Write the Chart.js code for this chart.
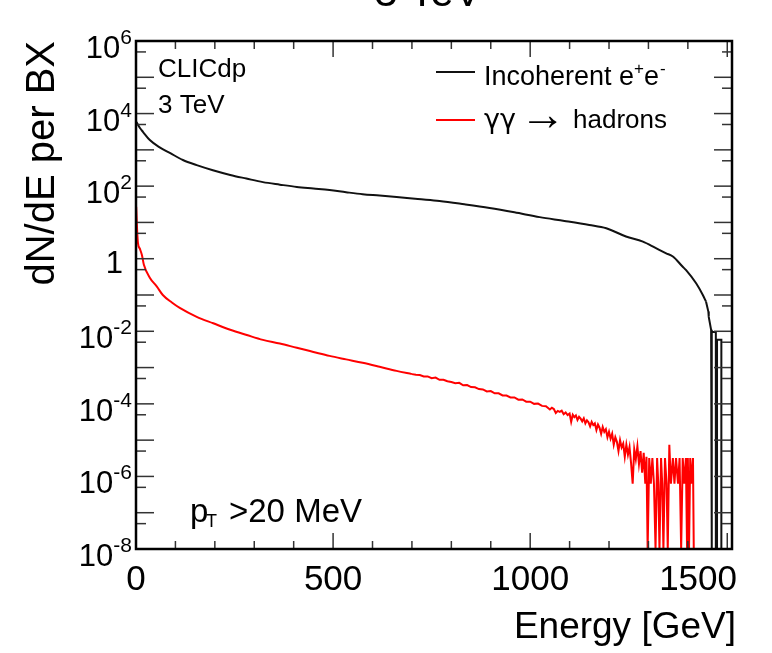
<!DOCTYPE html>
<html><head><meta charset="utf-8">
<script src="https://cdn.jsdelivr.net/npm/chart.js@4.4.0/dist/chart.umd.min.js"></script>
<style>html,body{margin:0;padding:0;background:#fff;}#wrap{width:772px;height:653px;position:relative;}</style>
</head><body><div id="wrap"><canvas id="c" width="772" height="653"></canvas></div>
<script>
// ---------------- data ----------------
const titleText = '3 TeV';
const xAxisTitle = 'Energy [GeV]';
const yAxisTitle = 'dN/dE per BX';
const xMajorTicks = [0, 500, 1000, 1500];
const xMinorStep = 100;
const yLabelExponents = [6, 4, 2, 0, -2, -4, -6, -8];
const X_MIN = 0, X_MAX = 1512;
const Y_MIN = 1e-8, Y_MAX = 1e6;

// Incoherent e+e- : smooth part
const eeEnergy = [1,10,18,35,60,87,119,154,195,239,280,322,365,408,450,491,533,575,618,661,715,770,833,897,960,1024,1087,1150,1193,1243,1286,1319,1345,1362,1387,1395,1421,1438,1446];
const eeValue  = [5900,4000,3100,1860,1170,810,525,380,275,204,162,129,110,95,86,78,68,60,55,50,44,39,31.6,25,19,14,11,8.5,6.9,4.1,2.95,1.95,1.41,1.15,0.6,0.49,0.21,0.1,0.066];
// Incoherent e+e- : sparse end bins (0 = empty bin)
const eeTailEnergy = [1446,1452,1453,1459,1460,1461,1461,1471,1471,1474,1474,1485,1485];
const eeTailValue  = [0.066,0.035,0.025,0.011,0,0,0.0095,0.0095,0,0,0.0058,0.0058,0];

// gamma gamma -> hadrons : smooth part
const hadEnergy = [0.5,3,5,10,15,20,35,53,68,91,111,154,196,239,281,322,365,408,450,491,533,575,618,661,700];
const hadValue  = [27,5.5,2.7,1.86,1.26,0.68,0.30,0.17,0.10,0.062,0.044,0.025,0.0166,0.011,0.0079,0.0058,0.0046,0.0035,0.0027,0.0021,0.00168,0.00135,0.00105,8.1e-4,6.6e-4];
// gamma gamma -> hadrons : noisy high-energy part (0 = empty bin)
const hadNoisyEnergy = [700,710,720,730,740,750,760,770,780,790,800,810,820,830,840,850,860,870,880,890,900,910,920,930,940,950,960,970,980,990,1000,1010,1020,1030,1040,1050,1055,1060,1065,1070,1075,1080,1085,1090,1095,
  1100,1104,1108,1112,1116,1120,1124,1128,1132,1136,1140,1144,1148,1152,1156,1160,1164,1168,1172,1176,1180,1184,1188,1192,1196,1200,1204,1208,1212,1216,1220,1224,1228,1232,1236,1240,1244,1248,1252,1256,1260,1264,1268,1272,1276,1280,1284,1288,1292,1295,
  1298,1302,1306,1310,1314,1318,1322,1325,1328,1332,1335,1338,1342,1346,1349,1353,1357,1362,1366,1370,1375,1379,1383,1387,1391,1395,1398,1400,1403,1406,1410,1413,1415];
const hadNoisyValue = [6.6e-4,6.3e-4,6.2e-4,5.7e-4,5.7e-4,5.1e-4,5.3e-4,4.6e-4,4.6e-4,4.2e-4,4.0e-4,3.7e-4,3.8e-4,3.25e-4,3.3e-4,2.9e-4,2.85e-4,2.55e-4,2.5e-4,2.2e-4,2.25e-4,1.95e-4,1.95e-4,1.7e-4,1.7e-4,1.5e-4,1.5e-4,1.3e-4,1.32e-4,1.15e-4,1.15e-4,1.0e-4,1.02e-4,8.8e-5,8.6e-5,7.0e-5,7.8e-5,7.2e-5,5.6e-5,6.4e-5,6.0e-5,6.5e-5,5.2e-5,5.8e-5,4.9e-5,
  5.4e-5,3.2e-5,5.0e-5,4.3e-5,4.8e-5,3.6e-5,4.4e-5,3.9e-5,3.3e-5,4.0e-5,2.9e-5,3.5e-5,3.1e-5,2.4e-5,3.2e-5,2.6e-5,2.9e-5,1.9e-5,2.7e-5,2.2e-5,1.5e-5,2.3e-5,1.7e-5,2.0e-5,1.2e-5,1.7e-5,1.1e-5,1.5e-5,7.5e-6,1.2e-5,9.0e-6,5.0e-6,1.0e-5,6.3e-6,8.0e-6,3.5e-6,7.5e-6,4.0e-6,6.5e-6,2.3e-6,6.3e-7,5.6e-6,3.0e-6,6.8e-6,2.2e-6,5.0e-6,1.26e-6,4.5e-6,6.3e-7,3.5e-6,
  0,3.2e-6,6.3e-7,3.2e-6,6.3e-7,0,3.2e-6,6.3e-7,0,3.2e-6,6.3e-7,0,3.2e-6,6.3e-7,0,7.4e-6,6.3e-7,3.2e-6,6.3e-7,3.2e-6,6.3e-7,3.2e-6,0,3.2e-6,6.3e-7,3.2e-6,0,3.2e-6,0,3.2e-6,6.3e-7,3.2e-6,0];

const legendLabels = ['Incoherent e', 'γγ', '→', 'hadrons'];
const seriesColors = ['#111111', '#ff0000'];
const annotCLIC = ['CLICdp', '3 TeV'];

// ---------------- drawing ----------------
const FONT = '"Liberation Sans", Arial, Helvetica, sans-serif';
const toPoints = (xs, ys) => xs.map((e, i) => ({x: e, y: ys[i] > 0 ? ys[i] : Y_MIN}));

const decor = {
  id: 'decor',
  afterDraw(chart) {
    const {ctx, chartArea: {left, right, top, bottom}, scales: {x, y}} = chart;
    ctx.save();
    ctx.fillStyle = '#000';
    const seg = (a, b, c, d) => { ctx.beginPath(); ctx.moveTo(a, b); ctx.lineTo(c, d); ctx.stroke(); };
    // ticks
    ctx.lineWidth = 1.5;
    ctx.strokeStyle = '#333';
    for (let v = X_MIN; v <= X_MAX; v += xMinorStep) {
      const px = x.getPixelForValue(v);
      const len = xMajorTicks.includes(v) ? 16 : 8;
      seg(px, bottom, px, bottom - len);
      seg(px, top, px, top + len);
    }
    for (let e = -8; e <= 6; e++) {
      const py = y.getPixelForValue(Math.pow(10, e));
      seg(left, py, left + 18, py); seg(right, py, right - 18, py);
      if (e < 6) {
        const py5 = y.getPixelForValue(5 * Math.pow(10, e));
        seg(left, py5, left + 10, py5); seg(right, py5, right - 10, py5);
      }
    }
    // frame
    ctx.strokeStyle = '#000';
    ctx.lineWidth = 2.5;
    ctx.strokeRect(left, top, right - left, bottom - top);

    // x tick labels
    ctx.font = '35px ' + FONT;
    ctx.textBaseline = 'alphabetic';
    for (const v of xMajorTicks) {
      const px = x.getPixelForValue(v);
      if (v === 1500) { ctx.textAlign = 'right'; ctx.fillText(String(v), 737, 590); }
      else { ctx.textAlign = 'center'; ctx.fillText(String(v), px, 590); }
    }
    // y tick labels
    ctx.textAlign = 'right';
    for (const e of yLabelExponents) {
      const py = y.getPixelForValue(Math.pow(10, e));
      if (e === 0) { ctx.font = '31px ' + FONT; ctx.fillText('1', 123, py + 14); continue; }
      ctx.font = '21px ' + FONT;
      const es = e < 0 ? '-' + Math.abs(e) : String(e);
      const ew = ctx.measureText(es).width;
      ctx.fillText(es, 132, py + 3);
      ctx.font = '31px ' + FONT;
      ctx.fillText('10', 132 - ew, py + 17);
    }
    // axis titles
    ctx.font = '37px ' + FONT;
    ctx.textAlign = 'right';
    ctx.fillText(xAxisTitle, 736, 638);
    ctx.save();
    ctx.font = '40px ' + FONT;
    ctx.translate(54, 41);
    ctx.rotate(-Math.PI / 2);
    ctx.fillText(yAxisTitle, 0, 0);
    ctx.restore();
    // title (cut off at top of the picture)
    ctx.font = '42px ' + FONT;
    ctx.textAlign = 'center';
    ctx.fillText(titleText, 428, 6);
    // annotations
    ctx.textAlign = 'left';
    ctx.font = '26px ' + FONT;
    ctx.fillText(annotCLIC[0], 158, 77);
    ctx.fillText(annotCLIC[1], 158, 113);
    ctx.font = '33px ' + FONT;
    ctx.fillText('p', 190, 522);
    ctx.font = '18px ' + FONT;
    ctx.fillText('T', 206, 527);
    ctx.font = '33px ' + FONT;
    ctx.fillText('>20 MeV', 229, 522);
    // legend
    ctx.lineWidth = 2;
    ctx.strokeStyle = seriesColors[0];
    seg(436, 72, 475, 72);
    ctx.strokeStyle = seriesColors[1];
    seg(436, 120, 475, 120);
    ctx.font = '27px ' + FONT;
    let tx = 484;
    ctx.fillText(legendLabels[0], tx, 85);
    tx += ctx.measureText(legendLabels[0]).width;
    ctx.font = '17px ' + FONT; ctx.fillText('+', tx, 74); tx += ctx.measureText('+').width;
    ctx.font = '27px ' + FONT; ctx.fillText('e', tx, 85); tx += ctx.measureText('e').width;
    ctx.font = '17px ' + FONT; ctx.fillText('-', tx + 1, 74);
    ctx.font = '27px "DejaVu Sans", ' + FONT;
    ctx.fillText(legendLabels[1], 484, 128);
    ctx.font = '46px ' + FONT;
    ctx.fillText(legendLabels[2], 520, 130);
    ctx.font = '26px ' + FONT;
    ctx.fillText(legendLabels[3], 573, 128);
    ctx.restore();
  }
};

const common = { showLine: true, borderWidth: 2, pointRadius: 0, clip: 0 };
new Chart(document.getElementById('c'), {
  type: 'scatter',
  data: {
    datasets: [
      Object.assign({ data: toPoints(hadEnergy, hadValue), borderColor: seriesColors[1], cubicInterpolationMode: 'monotone' }, common),
      Object.assign({ data: toPoints(hadNoisyEnergy, hadNoisyValue), borderColor: seriesColors[1], tension: 0 }, common),
      Object.assign({ data: toPoints(eeEnergy, eeValue), borderColor: seriesColors[0], cubicInterpolationMode: 'monotone' }, common),
      Object.assign({ data: toPoints(eeTailEnergy, eeTailValue), borderColor: seriesColors[0], tension: 0 }, common)
    ]
  },
  options: {
    responsive: false,
    animation: false,
    devicePixelRatio: 1,
    events: [],
    layout: { padding: { left: 136, top: 41, right: 40, bottom: 104 } },
    plugins: { legend: { display: false }, tooltip: { enabled: false } },
    scales: {
      x: { type: 'linear', min: X_MIN, max: X_MAX, display: false },
      y: { type: 'logarithmic', min: Y_MIN, max: Y_MAX, display: false }
    }
  },
  plugins: [decor]
});
</script>
</body></html>
